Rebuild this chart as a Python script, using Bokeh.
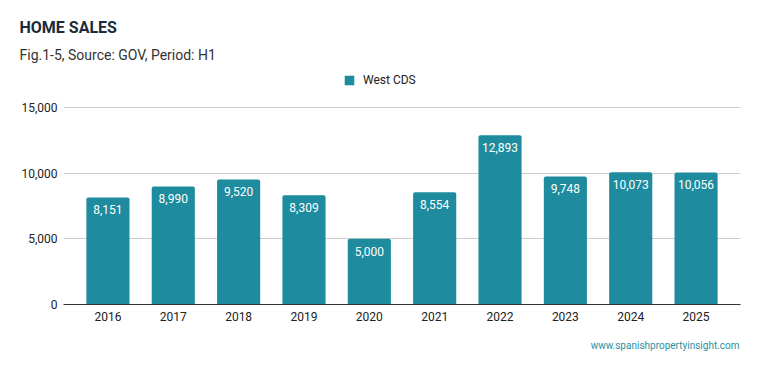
from bokeh.plotting import figure
from bokeh.layouts import column
from bokeh.models import (ColumnDataSource, FactorRange, Range1d, FixedTicker,
                          NumeralTickFormatter, Legend, LegendItem)
from bokeh.core.properties import value
from bokeh.embed import file_html
from bokeh.resources import INLINE

years = ["2016", "2017", "2018", "2019", "2020", "2021", "2022", "2023", "2024", "2025"]
sales = [8151, 8990, 9520, 8309, 5000, 8554, 12893, 9748, 10073, 10056]
sales_labels = [f"{v:,}" for v in sales]
y_ticks = [0, 5000, 10000, 15000]
series_name = "West CDS"
title_text = "HOME SALES"
subtitle_text = "Fig.1-5, Source: GOV, Period: H1"
credit_text = "www.spanishpropertyinsight.com"

BAR = "#1e8c9e"
FONT = "Roboto"
W = 759
HH, HM, HF = 68, 262, 41   # header, main, footer heights


def blank(h):
    f = figure(width=W, height=h, output_backend="svg", toolbar_location=None,
               x_range=Range1d(0, W), y_range=Range1d(h, 0),
               x_axis_type=None, y_axis_type=None, min_border=0, title=None,
               frame_align=False)
    f.outline_line_color = None
    f.xgrid.visible = False
    f.ygrid.visible = False
    return f


# ---- header: title, subtitle
header = blank(HH)
header.text(x=[19], y=[27], text=[title_text], text_font=value(FONT), text_font_size="16px",
            text_font_style="bold", text_color="#1c2a3a", text_baseline="alphabetic")
header.text(x=[19], y=[54], text=[subtitle_text], text_font=value(FONT), text_font_size="14px",
            text_color="#333333", text_baseline="alphabetic")

# ---- main chart (frame extends up to hold the legend; gridlines stop at 15,000)
src = ColumnDataSource(dict(x=years, y=sales, lab=sales_labels))
p = figure(width=W, height=HM, output_backend="svg", toolbar_location=None, title=None,
           x_range=FactorRange(factors=years, range_padding=0.18, range_padding_units="absolute"),
           y_range=Range1d(0, 17817),
           min_border_left=63, min_border_right=19, min_border_top=2, min_border_bottom=26,
           frame_align=False)
p.outline_line_color = None

r = p.vbar(x="x", top="y", width=0.66, source=src, fill_color=BAR, line_color=None,
           border_radius=(2, 2, 0, 0))
p.text(x="x", y="y", text="lab", source=src, text_color="white", text_font=value(FONT),
       text_font_size="12px", text_align="center", text_baseline="alphabetic", y_offset=12.5)

p.xgrid.grid_line_color = None
p.ygrid.grid_line_color = "#cccccc"
p.ygrid.ticker = FixedTicker(ticks=y_ticks)
p.yaxis.ticker = FixedTicker(ticks=y_ticks)
p.yaxis.formatter = NumeralTickFormatter(format="0,0")
p.yaxis.axis_line_color = None
p.xaxis.axis_line_color = "#333333"
for ax in (p.xaxis, p.yaxis):
    ax.major_tick_line_color = None
    ax.minor_tick_line_color = None
    ax.major_tick_out = 0
    ax.major_tick_in = 0
    ax.major_label_text_font = FONT
    ax.major_label_text_font_size = "12px"
    ax.major_label_text_color = "#222222"
p.yaxis.major_label_standoff = 6
p.xaxis.major_label_standoff = 7

legend = Legend(items=[LegendItem(label=series_name, renderers=[r])], location=(280, 216.7),
                glyph_width=12, glyph_height=12, label_standoff=8, padding=0, margin=0,
                border_line_color=None, background_fill_alpha=0,
                label_text_font=FONT, label_text_font_size="12px", label_text_color="#222222")
p.add_layout(legend, "center")

# ---- footer: credit
footer = blank(HF)
footer.text(x=[739], y=[15], text=[credit_text], text_font=value(FONT), text_font_size="10px",
            text_color="#2a8fa0", text_align="right", text_baseline="alphabetic")

layout = column(header, p, footer, spacing=0)
open("out.html", "w").write(file_html(layout, INLINE))
